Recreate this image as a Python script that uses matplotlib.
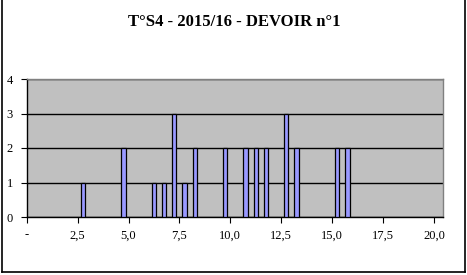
import matplotlib
matplotlib.use("Agg")
import matplotlib.pyplot as plt

# Data
notes = [2.75, 4.75, 6.25, 6.75, 7.25, 7.75, 8.25, 9.75, 10.75, 11.25, 11.75, 12.75, 13.25, 15.25, 15.75]
effectifs = [1, 2, 1, 1, 3, 1, 2, 2, 2, 2, 2, 3, 2, 2, 2]
x_ticks = [0, 2.5, 5, 7.5, 10, 12.5, 15, 17.5, 20]
x_labels = ["-", "2,5", "5,0", "7,5", "10,0", "12,5", "15,0", "17,5", "20,0"]
y_ticks = [0, 1, 2, 3, 4]
title = "T°S4 - 2015/16 - DEVOIR n°1"

W, H = 467, 275
fig = plt.figure(figsize=(W / 100, H / 100), dpi=100)
fig.patch.set_facecolor("white")

# chart-area border (left, right, bottom)
fig.add_artist(plt.Line2D([1.5 / W, 1.5 / W], [1 - 272 / H, 1.0], color="black", lw=1.2, transform=fig.transFigure))
fig.add_artist(plt.Line2D([465 / W, 465 / W], [1 - 272 / H, 1.0], color="black", lw=1.2, transform=fig.transFigure))
fig.add_artist(plt.Line2D([1.5 / W, 465 / W], [1 - 272 / H, 1 - 272 / H], color="black", lw=1.2, transform=fig.transFigure))

left, right, top, bottom = 26.7, 443.3, 79, 217
ax = fig.add_axes([left / W, 1 - bottom / H, (right - left) / W, (bottom - top) / H])
ax.set_facecolor("#C0C0C0")

ax.set_xlim(0, 20.46)
ax.set_ylim(0, 4)
ax.set_yticks(y_ticks)
ax.yaxis.grid(True, color="black", lw=1.0)
ax.set_axisbelow(True)

ax.bar(notes, effectifs, width=0.21, color="#9999FF", edgecolor="black", linewidth=0.9, zorder=3)

ax.set_xticks(x_ticks)
ax.set_xticklabels(x_labels)

serif = "Liberation Serif"
for lab in ax.get_xticklabels() + ax.get_yticklabels():
    lab.set_fontfamily(serif)
    lab.set_fontsize(9)

ax.tick_params(axis="both", direction="out", length=4, width=0.8, color="black")
ax.tick_params(axis="x", pad=5)
ax.tick_params(axis="y", pad=6)

for s in ["left", "bottom"]:
    ax.spines[s].set_color("black")
    ax.spines[s].set_linewidth(1.0)
for s in ["top", "right"]:
    ax.spines[s].set_color("#808080")
    ax.spines[s].set_linewidth(1.0)

fig.text(234.5 / W, 1 - 22 / H, title, ha="center", va="center",
         fontfamily=serif, fontweight="bold", fontsize=12)

fig.savefig("out.png", dpi=100)
